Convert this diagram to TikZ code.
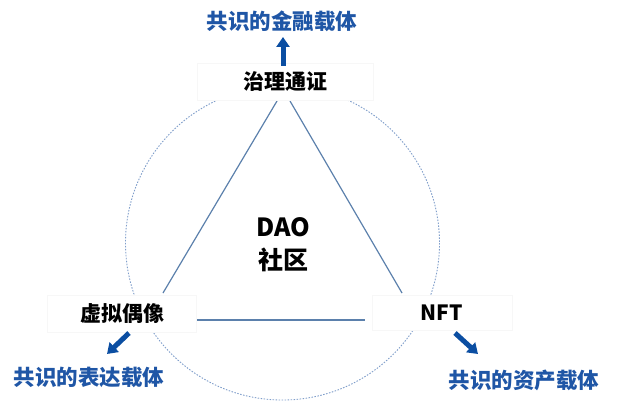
\documentclass[tikz,border=0pt]{standalone}
\usepackage{fontspec}
\setmainfont{Noto Sans CJK SC}
\usetikzlibrary{arrows.meta}
\definecolor{lineblue}{HTML}{5B80AC}
\definecolor{circblue}{HTML}{7F9ECB}
\definecolor{darkblue}{HTML}{0B4EA2}
\definecolor{textblue}{HTML}{1F56A6}
\tikzset{
  labelbox/.style={draw=black!3, fill=white, inner sep=0pt, font=\fontsize{21}{25}\selectfont\bfseries},
  bluelabel/.style={text=textblue, inner sep=0pt, font=\fontsize{21.5}{25}\selectfont\bfseries},
  tri/.style={draw=lineblue, line width=1.2pt},
  bigarrow/.style={draw=darkblue, line width=5pt, -{Triangle[width=13pt,length=10pt]}},
}
\begin{document}
\begin{tikzpicture}[x=1pt,y=-1pt]
\useasboundingbox[fill=white] (0,0) rectangle (617,403);
% circle
\draw[circblue, line width=0.9pt, dash pattern=on 1.5pt off 1.5pt] (282.5,243) circle (157);
% triangle corner coordinates
\coordinate (tl) at (277,101);
\coordinate (tr) at (290,101);
\coordinate (lt) at (163,293);
\coordinate (rt) at (402,293);
\coordinate (lb) at (197,320);
\coordinate (rb) at (365,320);
\draw[tri] (tl) -- (lt);
\draw[tri] (tr) -- (rt);
\draw[tri] (lb) -- (rb);
% label boxes
\node[labelbox, minimum width=176pt, minimum height=37pt] (top) at (285,81.5) {治理通证};
\node[labelbox, minimum width=149pt, minimum height=37pt] (left) at (122,313.5) {虚拟偶像};
\node[labelbox, minimum width=140pt, minimum height=35pt] (right) at (442,312.5) {NFT};
% centre
\node[inner sep=0pt, align=center, font=\fontsize{25}{33}\selectfont\bfseries] (dao) at (283,245) {DAO\\社区};
% blue labels
\node[bluelabel] (topl) at (282,21) {共识的金融载体};
\node[bluelabel] (leftl) at (89,377) {共识的表达载体};
\node[bluelabel] (rightl) at (524,380) {共识的资产载体};
% arrows
\coordinate (a1s) at (283,66);
\coordinate (a1e) at (283,37);
\coordinate (a2s) at (129,333);
\coordinate (a2e) at (107,354);
\coordinate (a3s) at (455,333);
\coordinate (a3e) at (478,354);
\draw[bigarrow] (a1s) -- (a1e);
\draw[bigarrow] (a2s) -- (a2e);
\draw[bigarrow] (a3s) -- (a3e);
\end{tikzpicture}
\end{document}
